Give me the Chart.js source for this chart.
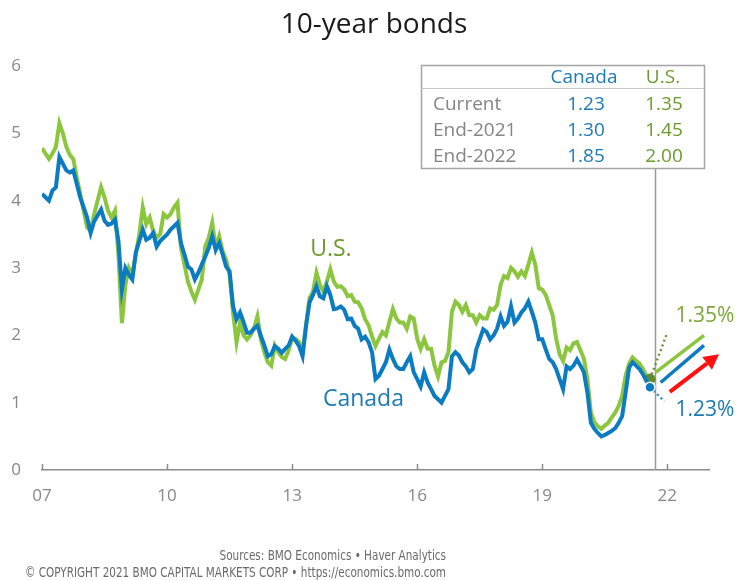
<!DOCTYPE html>
<html><head><meta charset="utf-8">
<script src="https://cdn.jsdelivr.net/npm/chart.js@4/dist/chart.umd.min.js"></script>
<style>html,body{margin:0;padding:0;background:#fff;}#wrap{width:739px;height:580px;}</style>
</head><body><div id="wrap"><canvas id="c" width="739" height="580"></canvas></div>
<script>
// ---- data (monthly, Jan 2007 .. Aug 2021) ----
const startYear = 2007;
const usYields = [
  4.78, 4.70, 4.62, 4.70, 4.80, 5.15, 5.00, 4.80, 4.68, 4.62, 4.35, 4.10, // 2007
  3.85, 3.60, 3.55, 3.80, 4.00, 4.20, 4.05, 3.85, 3.75, 3.85, 3.20, 2.18, // 2008
  2.75, 3.00, 2.90, 3.20, 3.50, 3.90, 3.65, 3.75, 3.55, 3.45, 3.50, 3.80, // 2009
  3.75, 3.80, 3.90, 3.97, 3.30, 3.05, 2.80, 2.65, 2.53, 2.68, 2.83, 3.32, // 2010
  3.45, 3.67, 3.30, 3.47, 3.25, 3.12, 2.90, 2.34, 1.90, 2.19, 2.00, 1.94, // 2011
  2.00, 2.10, 2.28, 1.94, 1.75, 1.60, 1.55, 1.85, 1.75, 1.68, 1.65, 1.78, // 2012
  1.95, 1.95, 1.90, 1.75, 2.15, 2.55, 2.65, 2.93, 2.75, 2.65, 2.80, 2.98, // 2013
  2.80, 2.72, 2.73, 2.68, 2.58, 2.60, 2.50, 2.49, 2.40, 2.24, 2.15, 1.98, // 2014
  1.84, 1.95, 2.05, 2.00, 2.20, 2.39, 2.25, 2.19, 2.19, 2.10, 2.28, 2.25, // 2015
  1.95, 1.80, 1.94, 1.80, 1.80, 1.55, 1.39, 1.60, 1.62, 1.75, 2.35, 2.50, // 2016
  2.45, 2.35, 2.45, 2.30, 2.30, 2.19, 2.30, 2.25, 2.25, 2.40, 2.38, 2.45, // 2017
  2.75, 2.88, 2.85, 3.00, 2.95, 2.87, 2.95, 2.88, 3.05, 3.23, 3.05, 2.70, // 2018
  2.68, 2.60, 2.45, 2.30, 1.95, 1.72, 1.62, 1.82, 1.78, 1.88, 1.90, 1.78, // 2019
  1.65, 1.35, 0.85, 0.71, 0.65, 0.61, 0.66, 0.70, 0.78, 0.85, 0.95, 1.10, // 2020
  1.40, 1.58, 1.67, 1.62, 1.58, 1.50, 1.39, 1.35                          // 2021
];
const canadaYields = [
  4.10, 4.05, 4.00, 4.15, 4.20, 4.65, 4.55, 4.45, 4.42, 4.45, 4.25, 4.05, // 2007
  3.90, 3.75, 3.52, 3.69, 3.78, 3.87, 3.70, 3.64, 3.66, 3.72, 3.40, 2.68, // 2008
  3.00, 2.90, 2.83, 3.23, 3.40, 3.57, 3.42, 3.45, 3.52, 3.32, 3.40, 3.45, // 2009
  3.50, 3.57, 3.62, 3.67, 3.37, 3.20, 3.02, 2.98, 2.83, 2.93, 3.05, 3.17, // 2010
  3.30, 3.47, 3.27, 3.37, 3.20, 3.02, 2.95, 2.43, 2.24, 2.34, 2.20, 2.04, // 2011
  2.04, 2.10, 2.14, 1.99, 1.85, 1.69, 1.72, 1.84, 1.80, 1.74, 1.80, 1.85, // 2012
  1.98, 1.92, 1.84, 1.69, 2.14, 2.49, 2.60, 2.73, 2.58, 2.55, 2.73, 2.60, // 2013
  2.39, 2.40, 2.43, 2.38, 2.24, 2.25, 2.14, 2.10, 1.94, 1.98, 1.90, 1.75, // 2014
  1.35, 1.40, 1.50, 1.60, 1.79, 1.65, 1.54, 1.50, 1.50, 1.60, 1.69, 1.45, // 2015
  1.35, 1.24, 1.45, 1.30, 1.20, 1.10, 1.05, 1.00, 1.10, 1.20, 1.69, 1.75, // 2016
  1.70, 1.60, 1.54, 1.45, 1.50, 1.79, 1.94, 2.09, 2.05, 1.94, 2.00, 2.10, // 2017
  2.28, 2.14, 2.20, 2.43, 2.19, 2.25, 2.34, 2.40, 2.50, 2.35, 2.19, 1.94, // 2018
  1.94, 1.79, 1.65, 1.60, 1.50, 1.35, 1.20, 1.54, 1.50, 1.55, 1.64, 1.55, // 2019
  1.45, 1.15, 0.70, 0.61, 0.55, 0.50, 0.52, 0.55, 0.58, 0.62, 0.70, 0.80, // 2020
  1.15, 1.52, 1.60, 1.55, 1.50, 1.42, 1.32, 1.23                          // 2021
];
const xTickYears = [2007, 2010, 2013, 2016, 2019, 2022];
const yTickValues = [0, 1, 2, 3, 4, 5, 6];
const tableRows = ['Current', 'End-2021', 'End-2022'];
const tableCanada = [1.23, 1.30, 1.85];
const tableUS = [1.35, 1.45, 2.00];
const currentLineYear = 2021.7;
const forecastStartUS = 2021.72, forecastStartCanada = 2021.84, forecastEnd = 2022.88;

const GREEN = '#8cc63e', BLUE = '#0b7cc2', OLIVE = '#6c9a2e', BLUE_TXT = '#1d7ab5', GRAY = '#858585';
Chart.defaults.font.family = '"Open Sans", "Noto Sans", sans-serif';

const toPts = arr => arr.map((v, i) => ({x: startYear + i / 12, y: v}));
const lastIdx = usYields.length - 1;
const lastYear = startYear + lastIdx / 12;

const annot = {
  id: 'annot',
  beforeDatasetsDraw(chart) {
    const {ctx, chartArea: ca, scales: {x: xs, y: ys}} = chart;
    const X = v => xs.getPixelForValue(v), Y = v => ys.getPixelForValue(v);
    ctx.save();
    // vertical "current" line from table bottom to axis
    ctx.strokeStyle = '#9a9a9a'; ctx.lineWidth = 1.5;
    const vx = Math.round(X(currentLineYear)) + 0.5;
    ctx.beginPath(); ctx.moveTo(vx, 168); ctx.lineTo(vx, ca.bottom); ctx.stroke();
    // dotted leaders
    ctx.setLineDash([2, 3]); ctx.lineWidth = 2.5;
    ctx.strokeStyle = '#6f9440';
    ctx.beginPath(); ctx.moveTo(X(lastYear), Y(tableUS[0])); ctx.lineTo(X(2022.0), Y(2.04)); ctx.stroke();
    ctx.strokeStyle = '#3a86bd';
    ctx.beginPath(); ctx.moveTo(X(lastYear), Y(tableCanada[0])); ctx.lineTo(X(2021.93), Y(1.02)); ctx.stroke();
    ctx.restore();
  },
  afterDraw(chart) {
    const {ctx, chartArea: ca, scales: {x: xs, y: ys}} = chart;
    const X = v => xs.getPixelForValue(v), Y = v => ys.getPixelForValue(v);
    ctx.save();
    // title
    ctx.font = '28px "Open Sans"'; ctx.fillStyle = '#1a1a1a';
    ctx.textAlign = 'center'; ctx.textBaseline = 'middle';
    ctx.fillText('10-year bonds', 374, 25);
    // upward tick marks on x axis
    ctx.strokeStyle = '#8a8a8a'; ctx.lineWidth = 1.5;
    xs.ticks.forEach(t => {
      const px = Math.round(X(t.value)) + 0.5;
      ctx.beginPath(); ctx.moveTo(px, ca.bottom); ctx.lineTo(px, ca.bottom - 6); ctx.stroke();
    });
    // table
    const tb = {l: 421, t: 65, r: 704, b: 168};
    ctx.fillStyle = '#fff'; ctx.fillRect(tb.l, tb.t, tb.r - tb.l, tb.b - tb.t);
    ctx.strokeStyle = '#a5a5a5'; ctx.lineWidth = 1.5;
    ctx.strokeRect(tb.l + 0.5, tb.t + 0.5, tb.r - tb.l, tb.b - tb.t);
    ctx.strokeStyle = '#c8c8c8'; ctx.lineWidth = 1;
    ctx.beginPath(); ctx.moveTo(tb.l, 88.5); ctx.lineTo(tb.r, 88.5); ctx.stroke();
    ctx.font = '19px "Open Sans"'; ctx.textBaseline = 'middle';
    ctx.textAlign = 'center';
    ctx.fillStyle = BLUE_TXT; ctx.fillText('Canada', 584, 78);
    ctx.fillStyle = OLIVE; ctx.fillText('U.S.', 663, 78);
    const rowY = [105, 131, 157];
    tableRows.forEach((r, i) => {
      ctx.textAlign = 'left'; ctx.fillStyle = GRAY; ctx.fillText(r, 433, rowY[i]);
      ctx.textAlign = 'center';
      ctx.fillStyle = BLUE_TXT; ctx.fillText(tableCanada[i].toFixed(2), 586, rowY[i]);
      ctx.fillStyle = OLIVE; ctx.fillText(tableUS[i].toFixed(2), 664, rowY[i]);
    });
    // series labels
    ctx.textAlign = 'center'; ctx.textBaseline = 'middle';
    ctx.font = '23px "Open Sans"';
    ctx.fillStyle = OLIVE; ctx.fillText('U.S.', X(2013.93), Y(3.27));
    ctx.fillStyle = BLUE_TXT; ctx.fillText('Canada', X(2014.71), Y(1.05));
    ctx.font = '21px "Open Sans"';
    ctx.fillStyle = '#7da63b'; ctx.fillText(tableUS[0].toFixed(2) + '%', X(2022.9), Y(2.28));
    ctx.fillStyle = BLUE_TXT; ctx.fillText(tableCanada[0].toFixed(2) + '%', X(2022.9), Y(0.89));
    // red arrow
    const x1 = X(2022.06), y1 = Y(1.16), x2 = X(2023.24), y2 = Y(1.72);
    const ang = Math.atan2(y2 - y1, x2 - x1), hl = 15, hw = 8;
    const bx = x2 - hl * Math.cos(ang), by = y2 - hl * Math.sin(ang);
    ctx.strokeStyle = '#ff1010'; ctx.fillStyle = '#ff1010'; ctx.lineWidth = 4;
    ctx.beginPath(); ctx.moveTo(x1, y1); ctx.lineTo(bx, by); ctx.stroke();
    ctx.beginPath(); ctx.moveTo(x2, y2);
    ctx.lineTo(bx + hw * Math.sin(ang), by - hw * Math.cos(ang));
    ctx.lineTo(bx - hw * Math.sin(ang), by + hw * Math.cos(ang));
    ctx.closePath(); ctx.fill();
    // sources
    const s1 = 'Sources: BMO Economics \u2022 Haver Analytics';
    const s2 = '\u00A9 COPYRIGHT 2021 BMO CAPITAL MARKETS CORP \u2022 https://economics.bmo.com';
    ctx.font = '14px "Liberation Sans Narrow", "DejaVu Sans Condensed", sans-serif';
    const sc = 421 / ctx.measureText(s2).width;
    ctx.fillStyle = '#6a6a6a'; ctx.textAlign = 'right'; ctx.textBaseline = 'middle';
    ctx.translate(446, 0); ctx.scale(sc, 1);
    ctx.fillText(s1, 0, 556); ctx.fillText(s2, 0, 573);
    ctx.restore();
  }
};

const lastR = (r) => ctx => ctx.dataIndex === lastIdx ? r : 0;

new Chart(document.getElementById('c'), {
  type: 'line',
  data: {
    datasets: [
      {label: 'Canada', data: toPts(canadaYields), borderColor: BLUE, borderWidth: 4, tension: 0,
       pointRadius: lastR(5), pointBackgroundColor: BLUE, pointBorderColor: '#fff', pointBorderWidth: 1.5, pointHoverRadius: 0},
      {label: 'U.S.', data: toPts(usYields), borderColor: GREEN, borderWidth: 4, tension: 0,
       pointRadius: lastR(5.5), pointBackgroundColor: '#5e8c2c', pointBorderColor: '#5e8c2c', pointBorderWidth: 0, pointHoverRadius: 0},
      {label: 'Canada forecast', data: [{x: forecastStartCanada, y: tableCanada[1]}, {x: forecastEnd, y: tableCanada[2]}],
       borderColor: BLUE, borderWidth: 3.5, pointRadius: 0},
      {label: 'U.S. forecast', data: [{x: forecastStartUS, y: tableUS[1]}, {x: forecastEnd, y: tableUS[2]}],
       borderColor: GREEN, borderWidth: 3.5, pointRadius: 0}
    ]
  },
  options: {
    responsive: false, animation: false, devicePixelRatio: 1,
    layout: {padding: {left: 0, right: 30, top: 66, bottom: 70}},
    plugins: {
      legend: {display: false}, tooltip: {enabled: false}, title: {display: false}
    },
    scales: {
      x: {type: 'linear', min: 2007, max: 2023,
          grid: {display: false, drawTicks: false},
          border: {display: true, color: '#8a8a8a', width: 1.5},
          afterBuildTicks: s => { s.ticks = xTickYears.map(v => ({value: v})); },
          ticks: {color: '#888', font: {size: 17}, padding: 16, maxRotation: 0, autoSkip: false,
                  callback: v => String(v).slice(2)},
          afterFit: s => { s.height = 40; }},
      y: {min: 0, max: 6,
          grid: {display: false, drawTicks: false}, border: {display: false},
          afterBuildTicks: s => { s.ticks = yTickValues.map(v => ({value: v})); },
          ticks: {color: '#888', font: {size: 17}, padding: 21},
          afterFit: s => { s.width = 42; }}
    }
  },
  plugins: [annot]
});
</script>
</body></html>
